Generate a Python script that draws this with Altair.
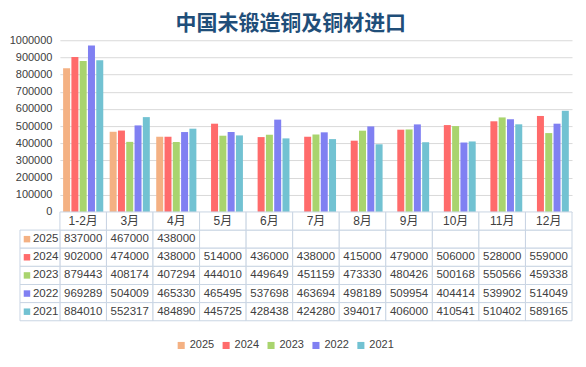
import altair as alt
import pandas as pd

cats = ["1-2月", "3月", "4月", "5月", "6月", "7月", "8月", "9月", "10月", "11月", "12月"]
years = ["2025", "2024", "2023", "2022", "2021"]
v2025 = [837000, 467000, 438000, None, None, None, None, None, None, None, None]
v2024 = [902000, 474000, 438000, 514000, 436000, 438000, 415000, 479000, 506000, 528000, 559000]
v2023 = [879443, 408174, 407294, 444010, 449649, 451159, 473330, 480426, 500168, 550566, 459338]
v2022 = [969289, 504009, 465330, 465495, 537698, 463694, 498189, 509954, 404414, 539902, 514049]
v2021 = [884010, 552317, 484890, 445725, 428438, 424280, 394017, 406000, 410541, 510402, 589165]
colors = ["#F4B183", "#FF6B6B", "#A9D46E", "#8080F2", "#72C2D2"]
yticks = [0, 100000, 200000, 300000, 400000, 500000, 600000, 700000, 800000, 900000, 1000000]

series = {"2025": v2025, "2024": v2024, "2023": v2023, "2022": v2022, "2021": v2021}

rows = []
for y in years:
    for c, v in zip(cats, series[y]):
        rows.append({"cat": c, "year": y, "row": y, "value": v,
                     "label": "" if v is None else str(v)})
df = pd.DataFrame(rows)
bars_df = df[df["value"].notna()]
hdr_df = pd.DataFrame({"cat": cats, "row": ["hdr"] * len(cats), "label": cats})
left_df = pd.DataFrame({"year": years, "row": years})

FONT = "Liberation Sans, Noto Sans CJK SC"
GRID = "#D9D9D9"
BORDER = "#C9D5E3"
TXT = "#404040"
row_dom = ["hdr"] + years

xenc = alt.X("cat:N", sort=cats, axis=None,
             scale=alt.Scale(domain=cats, paddingInner=0, paddingOuter=0))
yrow = alt.Y("row:N", axis=None,
             scale=alt.Scale(domain=row_dom, range=[172, 281], paddingInner=0, paddingOuter=0))
cscale = alt.Scale(domain=years, range=colors)

bars = alt.Chart(bars_df).mark_bar().encode(
    x=xenc,
    xOffset=alt.XOffset("year:N", sort=years,
                        scale=alt.Scale(domain=years, paddingInner=0.157, paddingOuter=0.386)),
    y=alt.Y("value:Q", scale=alt.Scale(domain=[0, 1000000]),
            axis=alt.Axis(values=yticks, format="d", title=None, domain=False, ticks=False,
                          gridColor=GRID, labelFontSize=11, labelColor=TXT, labelPadding=8,
                          labelFont=FONT)),
    color=alt.Color("year:N", sort=years, scale=cscale,
                    legend=alt.Legend(title=None, orient="none", direction="horizontal",
                                      legendX=116, legendY=300, symbolType="square",
                                      symbolSize=50, symbolStrokeWidth=0, labelFontSize=11,
                                      labelColor=TXT, labelFont=FONT, columnPadding=6,
                                      labelOffset=3)),
)

cells = alt.Chart(df).mark_rect(fill="white", stroke=BORDER, strokeWidth=1).encode(x=xenc, y=yrow)
hcells = alt.Chart(hdr_df).mark_rect(fill="white", stroke=BORDER, strokeWidth=1).encode(x=xenc, y=yrow)
lcells = alt.Chart(left_df).mark_rect(fill="white", stroke=BORDER, strokeWidth=1).encode(
    x=alt.value(-40), x2=alt.value(0), y=yrow)
squares = alt.Chart(left_df).mark_square(size=42, opacity=1).encode(
    x=alt.value(-33), y=yrow,
    color=alt.Color("year:N", sort=years, scale=cscale, legend=None))
ylab = alt.Chart(left_df).mark_text(align="left", fontSize=11.5, color=TXT, font=FONT).encode(
    x=alt.value(-27), y=yrow, text="year:N")
vals = alt.Chart(df).mark_text(fontSize=11.5, color=TXT, font=FONT).encode(
    x=xenc, y=yrow, text="label:N")
hlab = alt.Chart(hdr_df).mark_text(fontSize=12, color=TXT, font=FONT).encode(
    x=xenc, y=yrow, text="label:N")

table = alt.layer(cells, hcells, lcells, squares, ylab, vals, hlab)

chart = alt.layer(bars, table).resolve_scale(y="independent").properties(
    width=513, height=172,
    padding={"left": 1, "top": 5, "right": 5, "bottom": 5},
    title=alt.TitleParams("中国未锻造铜及铜材进口", fontSize=21, font="Noto Sans CJK SC",
                          fontWeight="bold", color="#1F4E79", anchor="middle",
                          frame="bounds", offset=0),
    background="white",
).configure_view(stroke=None)

chart.save("out.html", embed_options={"renderer": "svg", "actions": False})
